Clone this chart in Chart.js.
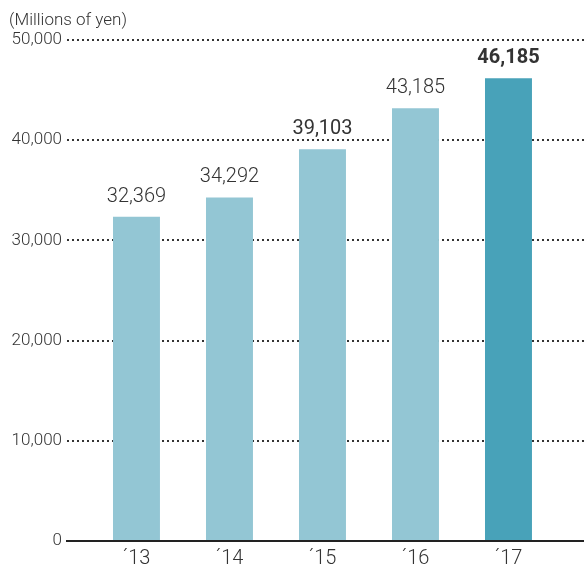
<!DOCTYPE html>
<html>
<head>
<meta charset="utf-8">
<script src="https://cdn.jsdelivr.net/npm/chart.js@4"></script>
<style>
  html, body { margin: 0; padding: 0; background: #fff; }
  #wrap { width: 584px; height: 565px; }
</style>
</head>
<body>
<div id="wrap"><canvas id="sales"></canvas></div>
<script>
// data
var years = ['\u00b413', '\u00b414', '\u00b415', '\u00b416', '\u00b417'];
var sales = [32369, 34292, 39103, 43185, 46185];
var yTicks = [0, 10000, 20000, 30000, 40000, 50000];
var unitLabel = '(Millions of yen)';

var barColors = ['#93c6d4', '#93c6d4', '#93c6d4', '#93c6d4', '#48a2b9'];
var labelWeights = ['300', '300', '400', '300', '700'];
var textColor = '#333';
var fontFamily = 'Roboto, "Noto Sans", sans-serif';

function fmt(v) {
    return v.toString().replace(/\B(?=(\d{3})+(?!\d))/g, ',');
}

// value labels above the bars + the unit label
var labelsPlugin = {
    id: 'valueLabels',
    afterDatasetsDraw: function(chart) {
        var ctx = chart.ctx;
        var meta = chart.getDatasetMeta(0);
        ctx.save();
        ctx.fillStyle = textColor;
        ctx.textAlign = 'center';
        ctx.textBaseline = 'alphabetic';
        meta.data.forEach(function(bar, i) {
            ctx.font = labelWeights[i] + ' 20px ' + fontFamily;
            ctx.fillText(fmt(sales[i]), bar.x, bar.y - 15);
        });
        ctx.font = '300 17px ' + fontFamily;
        ctx.textAlign = 'left';
        ctx.fillText(unitLabel, 9, 25);
        ctx.restore();
    }
};

new Chart(
    document.getElementById('sales'),
    {
        type: 'bar',
        data: {
            datasets: [
                {
                    label: 'Sales',
                    data: sales.map(function(v, i) { return {x: i, y: v}; }),
                    backgroundColor: barColors,
                    borderWidth: 0,
                    barPercentage: 0.505,
                    categoryPercentage: 1
                }
            ]
        },
        options: {
            responsive: true,
            maintainAspectRatio: false,
            animation: false,
            layout: {
                padding: {top: 40, left: 0, right: 0, bottom: 0}
            },
            scales: {
                x: {
                    type: 'linear',
                    offset: false,
                    min: -0.747,
                    max: 4.812,
                    afterBuildTicks: function(scale) {
                        scale.ticks = years.map(function(y, i) { return {value: i}; });
                    },
                    grid: {display: false, offset: false},
                    border: {display: true, color: '#222', width: 2},
                    ticks: {
                        autoSkip: false,
                        maxRotation: 0,
                        padding: -2,
                        color: textColor,
                        font: {family: fontFamily, size: 20, weight: '300'},
                        callback: function(v) { return years[v]; }
                    },
                    afterFit: function(scale) { scale.height = 24; }
                },
                y: {
                    min: 0,
                    max: 50000,
                    afterBuildTicks: function(scale) {
                        scale.ticks = yTicks.map(function(v) { return {value: v}; });
                    },
                    border: {display: false, dash: [2, 3]},
                    grid: {
                        drawTicks: false,
                        lineWidth: 2,
                        color: function(c) {
                            return c.tick && c.tick.value === 0 ? 'rgba(0,0,0,0)' : '#333';
                        }
                    },
                    ticks: {
                        padding: 5,
                        color: textColor,
                        font: {family: fontFamily, size: 17, weight: '300'},
                        callback: function(v) { return fmt(v); }
                    },
                    afterFit: function(scale) { scale.width = 67; }
                }
            },
            plugins: {
                legend: {display: false},
                tooltip: {enabled: false},
                title: {display: false}
            }
        },
        plugins: [labelsPlugin]
    }
);
</script>
</body>
</html>
